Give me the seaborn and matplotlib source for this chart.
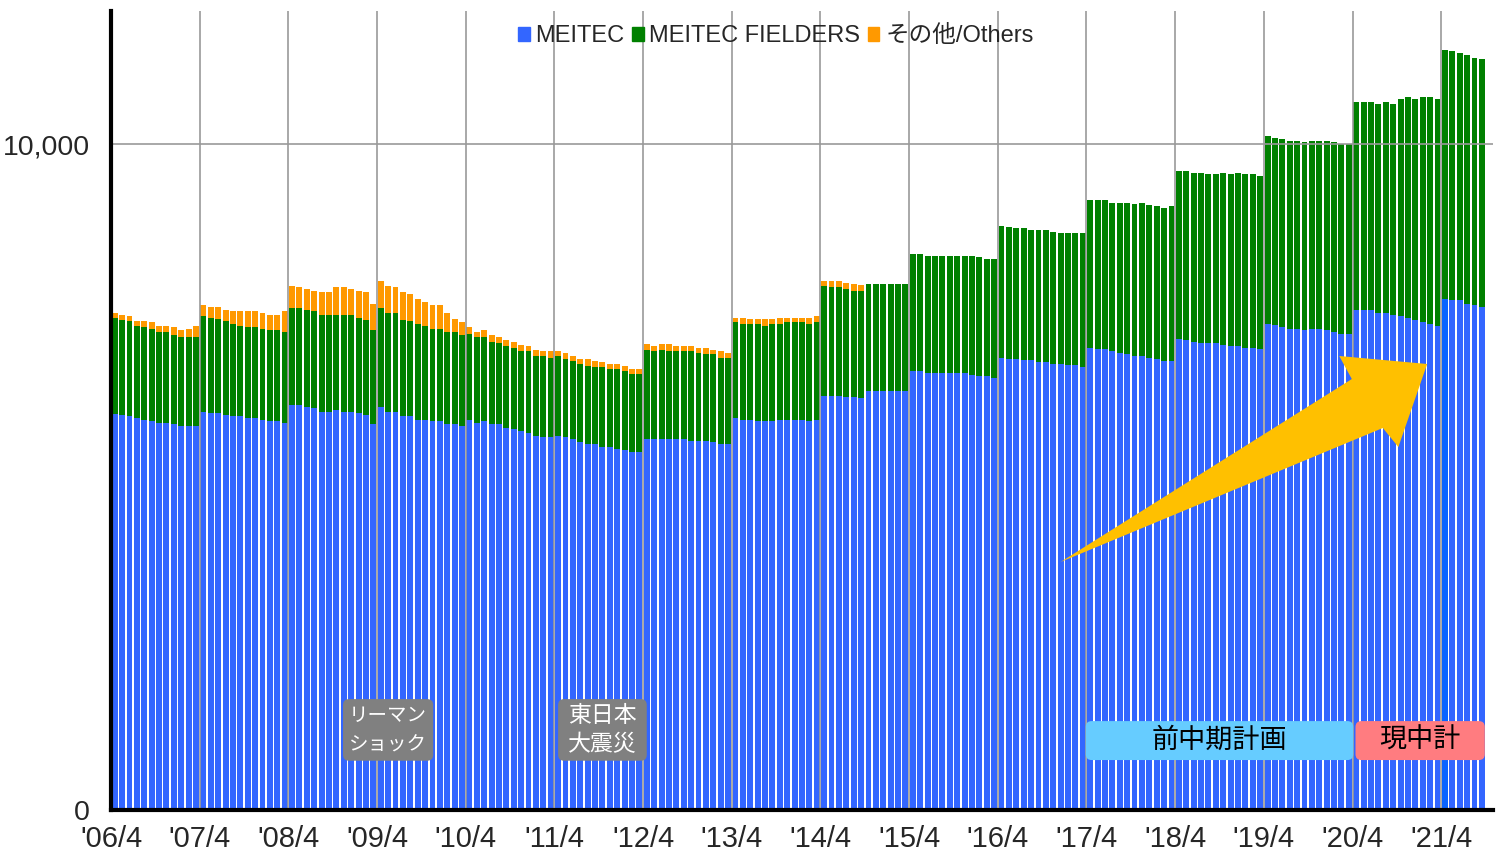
import numpy as np
import pandas as pd
import matplotlib
matplotlib.use("Agg")
import matplotlib.pyplot as plt
from matplotlib.patches import Patch, FancyBboxPatch, Polygon
import seaborn as sns

# monthly headcount, one row per fiscal year (Apr..Mar), last row ends at '21/9
meitec = [
    5950, 5936, 5910, 5885, 5860, 5835, 5815, 5815, 5790, 5765, 5765, 5765,
    5980, 5955, 5955, 5935, 5910, 5910, 5885, 5885, 5860, 5835, 5835, 5815,
    6075, 6075, 6050, 6030, 5980, 5980, 6005, 5980, 5980, 5955, 5935, 5790,
    6050, 5980, 5980, 5910, 5910, 5860, 5860, 5835, 5835, 5790, 5790, 5765,
    5860, 5815, 5835, 5790, 5790, 5740, 5715, 5690, 5665, 5620, 5595, 5595,
    5620, 5595, 5570, 5525, 5500, 5500, 5450, 5450, 5425, 5400, 5375, 5370,
    5570, 5570, 5570, 5570, 5570, 5570, 5545, 5545, 5545, 5520, 5500, 5500,
    5885, 5860, 5860, 5835, 5835, 5835, 5860, 5860, 5860, 5860, 5835, 5860,
    6220, 6220, 6220, 6195, 6195, 6190, 6290, 6290, 6290, 6290, 6290, 6290,
    6585, 6585, 6560, 6560, 6560, 6560, 6560, 6560, 6535, 6510, 6510, 6485,
    6790, 6775, 6775, 6750, 6750, 6725, 6725, 6700, 6700, 6675, 6675, 6650,
    6935, 6915, 6915, 6890, 6865, 6840, 6815, 6815, 6790, 6770, 6745, 6745,
    7075, 7055, 7030, 7010, 7010, 7010, 6985, 6960, 6960, 6935, 6935, 6915,
    7295, 7275, 7250, 7225, 7225, 7200, 7225, 7225, 7200, 7175, 7150, 7150,
    7510, 7510, 7510, 7460, 7460, 7440, 7415, 7390, 7365, 7320, 7300, 7270,
    7680, 7655, 7655, 7605, 7580, 7560,
]
fielders = [
    1440, 1429, 1430, 1385, 1385, 1385, 1360, 1360, 1335, 1335, 1335, 1335,
    1435, 1435, 1415, 1410, 1385, 1360, 1360, 1360, 1360, 1365, 1365, 1360,
    1460, 1460, 1460, 1460, 1460, 1460, 1435, 1460, 1460, 1435, 1430, 1410,
    1485, 1480, 1480, 1455, 1430, 1435, 1410, 1385, 1385, 1385, 1385, 1360,
    1290, 1285, 1265, 1240, 1215, 1220, 1220, 1195, 1220, 1195, 1220, 1195,
    1195, 1170, 1170, 1165, 1170, 1145, 1195, 1170, 1195, 1195, 1175, 1180,
    1340, 1315, 1340, 1315, 1315, 1315, 1340, 1315, 1295, 1320, 1290, 1290,
    1435, 1435, 1435, 1460, 1435, 1460, 1435, 1460, 1460, 1460, 1460, 1460,
    1655, 1630, 1630, 1630, 1605, 1610, 1610, 1610, 1610, 1610, 1610, 1610,
    1765, 1765, 1765, 1765, 1765, 1765, 1765, 1765, 1790, 1790, 1765, 1790,
    1985, 1975, 1960, 1985, 1960, 1985, 1985, 1985, 1965, 1990, 1990, 2010,
    2230, 2250, 2250, 2225, 2250, 2275, 2280, 2300, 2300, 2300, 2300, 2325,
    2520, 2540, 2540, 2560, 2535, 2535, 2585, 2585, 2610, 2610, 2610, 2605,
    2825, 2820, 2820, 2825, 2825, 2825, 2825, 2825, 2850, 2850, 2850, 2850,
    3115, 3115, 3115, 3140, 3165, 3160, 3260, 3310, 3310, 3380, 3400, 3405,
    3730, 3735, 3710, 3735, 3715, 3710,
]
others = [
    75, 75, 80, 75, 100, 100, 95, 95, 120, 100, 125, 170,
    175, 170, 190, 170, 195, 220, 245, 245, 245, 240, 240, 315,
    340, 315, 315, 310, 340, 340, 410, 410, 385, 410, 415, 405,
    410, 415, 390, 410, 410, 385, 360, 365, 365, 290, 195, 195,
    95, 75, 100, 95, 95, 95, 95, 95, 75, 95, 70, 95,
    70, 95, 75, 75, 95, 95, 75, 70, 70, 75, 70, 75,
    80, 75, 80, 105, 75, 75, 75, 75, 95, 70, 95, 75,
    75, 100, 75, 75, 100, 75, 100, 75, 75, 75, 100, 100,
    75, 100, 100, 95, 95, 90, 0, 0, 0, 0, 0, 0,
    0, 0, 0, 0, 0, 0, 0, 0, 0, 0, 0, 0,
    0, 0, 0, 0, 0, 0, 0, 0, 0, 0, 0, 0,
    0, 0, 0, 0, 0, 0, 0, 0, 0, 0, 0, 0,
    0, 0, 0, 0, 0, 0, 0, 0, 0, 0, 0, 0,
    0, 0, 0, 0, 0, 0, 0, 0, 0, 0, 0, 0,
    0, 0, 0, 0, 0, 0, 0, 0, 0, 0, 0, 0,
    0, 0, 0, 0, 0, 0,
]
tick_labels = ["'06/4", "'07/4", "'08/4", "'09/4", "'10/4", "'11/4", "'12/4", "'13/4",
               "'14/4", "'15/4", "'16/4", "'17/4", "'18/4", "'19/4", "'20/4", "'21/4"]
series_names = ["MEITEC", "MEITEC FIELDERS", "その他/Others"]

C_MEITEC = "#3366FF"
C_FIELD = "#008000"
C_OTHER = "#FF9900"
C_GRID = "#999999"

months = pd.period_range("2006-04", periods=len(meitec), freq="M").strftime("%Y/%m").tolist()
df = pd.DataFrame({"month": months, "meitec": meitec, "fielders": fielders, "others": others})

sns.set_style("white")
plt.rcParams["font.family"] = ["Liberation Sans", "Noto Sans CJK JP", "DejaVu Sans"]

fig = plt.figure(figsize=(15, 8.52), dpi=100)
ax = fig.add_axes([0.074, 0.0493, 0.9213, 0.938])

bar_kw = dict(saturation=1, width=0.8, errorbar=None, linewidth=0, edgecolor="none", ax=ax)
sns.barplot(data=df, x="month", y="meitec", color=C_MEITEC, **bar_kw)
sns.barplot(data=df, x="month", y="fielders", color=C_FIELD,
            bottom=df["meitec"].to_numpy(), **bar_kw)
sns.barplot(data=df, x="month", y="others", color=C_OTHER,
            bottom=(df["meitec"] + df["fielders"]).to_numpy(), **bar_kw)
# the '21/4 bar is highlighted in the original
ax.patches[180].set_facecolor("#0A64FF")

ax.set_xlim(-0.5, 186.5)
ax.set_ylim(0, 12000)
ax.set_xticks(np.arange(0, len(meitec), 12) - 0.5)
ax.set_xticklabels(tick_labels, fontsize=21)
ax.set_yticks([0, 10000])
ax.set_yticklabels(["0", "10,000"], fontsize=20.5)
ax.tick_params(axis="x", length=0, pad=11)
ax.tick_params(axis="y", length=0, pad=15)
ax.set_xlabel("")
ax.set_ylabel("")
ax.grid(True, color=C_GRID, linewidth=1.2)
ax.set_axisbelow(False)
sns.despine(ax=ax)
for side in ["left", "bottom"]:
    ax.spines[side].set_linewidth(3)
    ax.spines[side].set_color("black")
    ax.spines[side].set_zorder(6)

handles = [Patch(color=c, label=n) for c, n in zip([C_MEITEC, C_FIELD, C_OTHER], series_names)]
ax.legend(handles=handles, loc="center", bbox_to_anchor=(0.481, 0.968), ncol=3, frameon=False,
          fontsize=17, handlelength=0.5, handleheight=0.5, handletextpad=0.25,
          columnspacing=0.3, borderaxespad=0)

# y data units per x data unit, so rounded corners look round
aspect = (12000 / (0.938 * 852)) * ((0.9213 * 1500) / 187)


def note_box(x0, x1, y0, y1, fc, text, size, tc, spacing=1.25):
    ax.add_patch(FancyBboxPatch((x0, y0), x1 - x0, y1 - y0,
                                boxstyle="round,pad=0,rounding_size=0.8",
                                mutation_aspect=aspect, fc=fc, ec="none", zorder=5))
    ax.text((x0 + x1) / 2, (y0 + y1) / 2, text, ha="center", va="center",
            fontsize=size, color=tc, family="Noto Sans CJK JP", linespacing=spacing, zorder=6)


note_box(30.9, 43.1, 740, 1665, "#808080", "リーマン\nショック", 14, "white", 1.55)
note_box(60.0, 72.0, 740, 1665, "#808080", "東日本\n大震災", 16.5, "white", 1.3)
note_box(131.4, 167.6, 750, 1335, "#66CCFF", "前中期計画", 19.5, "black")
note_box(167.9, 185.4, 750, 1335, "#FF7C80", "現中計", 19.5, "black")

# big growth arrow
arrow = Polygon([(128.0, 3724), (167.4, 6471), (165.7, 6817), (177.6, 6697),
                 (173.7, 5450), (171.6, 5736)], closed=True, fc="#FFC000", ec="none", zorder=4)
ax.add_patch(arrow)

fig.savefig("out.png", dpi=100)
